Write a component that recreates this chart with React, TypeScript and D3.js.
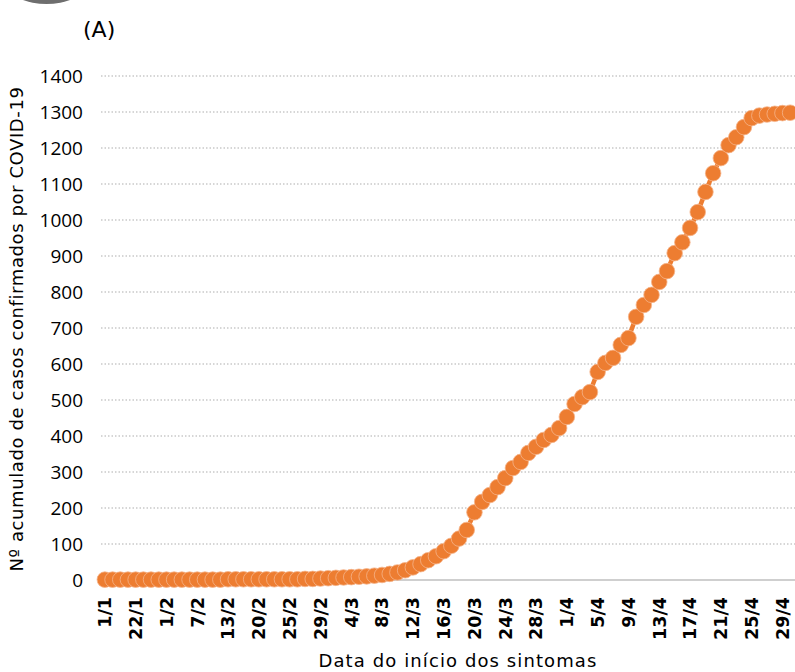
import React from "react";
import * as d3 from "d3";

// dates on the category axis (only days with data before 29/2)
const earlyDates = [
  "1/1", "8/1", "13/1", "18/1", "22/1", "24/1", "27/1", "30/1",
  "1/2", "3/2", "4/2", "6/2", "7/2", "9/2", "10/2", "12/2",
  "13/2", "15/2", "17/2", "19/2", "20/2", "22/2", "23/2", "24/2",
  "25/2", "26/2", "27/2", "28/2", "29/2",
];
const marchDates = d3.range(1, 32).map((d) => d + "/3");
const aprilDates = d3.range(1, 31).map((d) => d + "/4");
const dates = [...earlyDates, ...marchDates, ...aprilDates];

// cumulative confirmed cases
const cases = [
  1, 1, 1, 1, 1, 1, 1, 1, 1, 1, 1, 1, 1, 1, 1, 1, 2, 2, 2, 2,
  2, 2, 2, 2, 2, 2, 3, 3, 4, 5, 6, 7, 8, 9, 10, 12, 14, 17, 21, 27,
  35, 44, 55, 66, 80, 95, 115, 139, 188, 217, 236, 258, 283, 311, 328, 353,
  370, 389, 403, 422, 453, 489, 508, 522, 578, 603, 617, 653, 672, 731,
  764, 792, 828, 858, 908, 938, 978, 1022, 1078, 1130, 1172, 1208, 1230, 1258,
  1283, 1290, 1293, 1295, 1297, 1298,
];

const yTicks = [0, 100, 200, 300, 400, 500, 600, 700, 800, 900, 1000, 1100, 1200, 1300, 1400];
const tickDates = dates.filter((_, i) => i % 4 === 0);

const W = 795;
const H = 672;
const orange = "#ED7D31";

export default function App() {
  const x = d3.scalePoint<string>().domain(dates).range([101, 794]).padding(0.5);
  const y = d3.scaleLinear().domain([0, 1400]).range([580, 76]);

  const line = d3
    .line<number>()
    .x((_, i) => x(dates[i]) as number)
    .y((d) => y(d));

  return (
    <svg
      width={W}
      height={H}
      style={{ position: "absolute", left: 0, top: 0, display: "block", background: "#fff" }}
    >
      <circle cx={46.5} cy={-67} r={71} fill="#6e6e6e" />
      <text x={83} y={37} fontFamily="DejaVu Sans" fontSize={22} fill="#000">
        (A)
      </text>

      {/* grid */}
      {yTicks.map((t) =>
        t === 0 ? (
          <line key={t} x1={101} x2={W} y1={y(t)} y2={y(t)} stroke="#bfbfbf" strokeWidth={1.5} />
        ) : (
          <line
            key={t}
            x1={101}
            x2={W}
            y1={y(t)}
            y2={y(t)}
            stroke="#c9c9c9"
            strokeWidth={1.3}
            strokeDasharray="1.5,2"
          />
        )
      )}

      {/* y tick labels */}
      {yTicks.map((t) => (
        <text
          key={"l" + t}
          x={83}
          y={y(t)}
          dy="0.35em"
          textAnchor="end"
          fontFamily="Open Sans"
          fontSize={19}
          fill="#000"
        >
          {t}
        </text>
      ))}

      {/* x tick labels */}
      {tickDates.map((d) => (
        <text
          key={"x" + d}
          transform={`translate(${x(d)},597) rotate(-90)`}
          dy="0.36em"
          textAnchor="end"
          fontFamily="DejaVu Sans"
          fontWeight="bold"
          fontSize={17.5}
          fill="#000"
        >
          {d}
        </text>
      ))}

      {/* series */}
      <path d={line(cases) || ""} fill="none" stroke={orange} strokeWidth={4.5} />
      {cases.map((c, i) => (
        <circle
          key={"p" + i}
          cx={x(dates[i])}
          cy={y(c)}
          r={7.8}
          fill={orange}
          stroke="#f5b48a"
          strokeWidth={0.8}
        />
      ))}

      <text
        x={458}
        y={667}
        textAnchor="middle"
        fontFamily="DejaVu Sans"
        fontSize={18}
        letterSpacing={1.1}
        fill="#000"
      >
        Data do início dos sintomas
      </text>
      <text
        transform="translate(17,329) rotate(-90)"
        dy="0.35em"
        textAnchor="middle"
        fontFamily="DejaVu Sans"
        fontSize={18}
        letterSpacing={0.6}
        fill="#000"
      >
        Nº acumulado de casos confirmados por COVID-19
      </text>
    </svg>
  );
}
